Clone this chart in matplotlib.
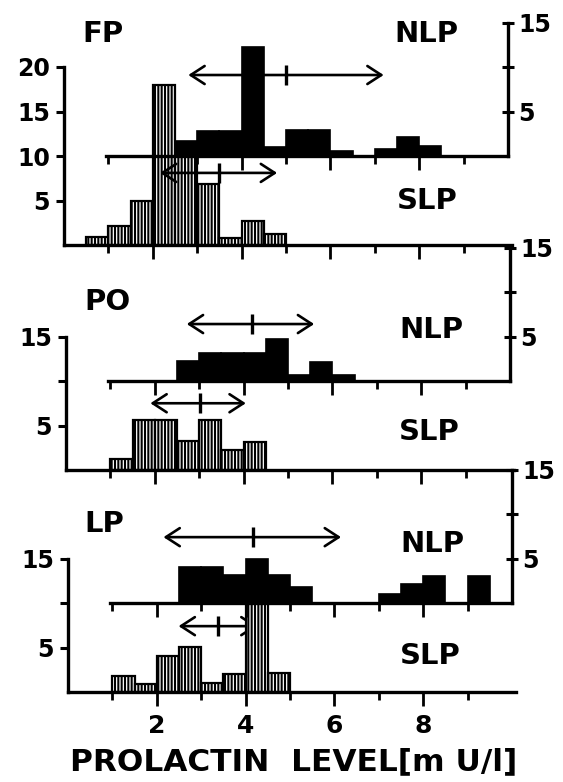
import matplotlib
matplotlib.use("Agg")
import matplotlib.pyplot as plt

plt.rcParams["font.family"] = ["DejaVu Sans"]
plt.rcParams["font.weight"] = "bold"
plt.rcParams["hatch.linewidth"] = 1.5

# ---------------- data (bin left edges, bin width 0.5) ----------------
FP_SLP_LEFT = [0.5, 1.0, 1.5, 2.0, 2.5, 3.0, 3.5, 4.0, 4.5]
FP_SLP_N = [0.9, 2.1, 4.9, 18.0, 10.0, 6.9, 0.8, 2.7, 1.2]
FP_NLP_LEFT = [2.5, 3.0, 3.5, 4.0, 4.5, 5.0, 5.5, 6.0, 7.0, 7.5, 8.0]
FP_NLP_N = [1.7, 2.8, 2.8, 12.2, 1.0, 2.9, 2.9, 0.6, 0.8, 2.1, 1.1]

PO_SLP_LEFT = [1.0, 1.5, 2.0, 2.5, 3.0, 3.5, 4.0]
PO_SLP_N = [1.2, 5.6, 5.6, 3.3, 5.6, 2.2, 3.1]
PO_NLP_LEFT = [2.5, 3.0, 3.5, 4.0, 4.5, 5.0, 5.5, 6.0]
PO_NLP_N = [2.3, 3.2, 3.2, 3.2, 4.7, 0.7, 2.1, 0.7]

LP_SLP_LEFT = [1.0, 1.5, 2.0, 2.5, 3.0, 3.5, 4.0, 4.5]
LP_SLP_N = [1.85, 0.9, 4.0, 5.1, 1.0, 2.0, 10.0, 2.1]
LP_NLP_LEFT = [2.5, 3.0, 3.5, 4.0, 4.5, 5.0, 7.0, 7.5, 8.0, 9.0]
LP_NLP_N = [4.0, 4.0, 3.1, 4.9, 3.1, 1.8, 1.0, 2.1, 3.0, 3.0]

# mean +/- SD arrows: [left, mean, right, level]
FP_SLP_ARROW = [2.16, 3.48, 4.80, 8.1]
FP_NLP_ARROW = [2.80, 5.00, 7.20, 9.1]
PO_SLP_ARROW = [1.90, 3.02, 4.05, 7.5]
PO_NLP_ARROW = [2.72, 4.18, 5.59, 6.4]
LP_SLP_ARROW = [2.49, 3.38, 4.27, 7.4]
LP_NLP_ARROW = [2.15, 4.17, 6.15, 7.4]

PANEL_NAMES = ["FP", "PO", "LP"]
SLP_YTICKS = [[5, 10, 15, 20], [5, 10, 15], [5, 10, 15]]
SLP_YLABELS = [["5", "10", "15", "20"], ["5", "", "15"], ["5", "", "15"]]
NLP_YTICKS = [5, 10, 15]
NLP_YLABELS = ["5", "", "15"]
X_MAJOR = [2, 4, 6, 8]
X_MINOR = [1, 3, 5, 7, 9]
X_LABELS = ["2", "4", "6", "8"]
XLABEL = "PROLACTIN  LEVEL[m U/l]"

# ---------------- layout ----------------
W, H = 563, 782
PX_X, PX_Y = 44.4, 8.9
YMAX = 26.0
NLP_OFFSET = 10.0
BASELINE_PX = [245, 470, 692]
LEFT_PX = [64, 66, 68]
NAME_POS = [(0.42, 23.7), (0.42, 18.9), (0.38, 18.9)]
NLP_POS = [(7.45, 23.7), (7.5, 15.7), (7.48, 16.6)]
SLP_POS = [(7.5, 4.9), (7.5, 4.3), (7.48, 4.0)]
SLP_ARROW_Z = [4, 4, 0.5]

fig = plt.figure(figsize=(W / 100, H / 100), dpi=100)

data = [
    (FP_SLP_LEFT, FP_SLP_N, FP_NLP_LEFT, FP_NLP_N, FP_SLP_ARROW, FP_NLP_ARROW),
    (PO_SLP_LEFT, PO_SLP_N, PO_NLP_LEFT, PO_NLP_N, PO_SLP_ARROW, PO_NLP_ARROW),
    (LP_SLP_LEFT, LP_SLP_N, LP_NLP_LEFT, LP_NLP_N, LP_SLP_ARROW, LP_NLP_ARROW),
]

LW = 2.4
TICK_FS = 17
LABEL_FS = 21
XLABEL_FS = 22.5


def draw_arrow(ax, arr, z):
    left, mean, right, level = arr
    ax.annotate("", xy=(right, level), xytext=(left, level),
                arrowprops=dict(arrowstyle="<->,head_length=1.0,head_width=0.65",
                                lw=1.9, color="black", mutation_scale=10,
                                shrinkA=0, shrinkB=0),
                zorder=z)
    ax.plot([mean, mean], [level - 1.1, level + 1.1], color="black", lw=2.4,
            zorder=z, solid_capstyle="butt")


for i, name in enumerate(PANEL_NAMES):
    slp_l, slp_n, nlp_l, nlp_n, slp_arr, nlp_arr = data[i]
    rect = [LEFT_PX[i] / W, (H - BASELINE_PX[i]) / H,
            10 * PX_X / W, YMAX * PX_Y / H]

    ax = fig.add_axes(rect)
    ax.patch.set_visible(False)
    ax.set_xlim(0, 10)
    ax.set_ylim(0, YMAX)
    ax.bar(slp_l, slp_n, width=0.5, align="edge", color="white",
           edgecolor="black", hatch="|||||", linewidth=1.6, zorder=2)
    draw_arrow(ax, slp_arr, SLP_ARROW_Z[i])

    for s in ["top", "right"]:
        ax.spines[s].set_visible(False)
    ax.spines["left"].set_bounds(0, SLP_YTICKS[i][-1])
    ax.spines["bottom"].set_bounds(0, 10.1)
    for s in ["left", "bottom"]:
        ax.spines[s].set_linewidth(LW)
        ax.spines[s].set_zorder(3)
    ax.set_yticks(SLP_YTICKS[i], SLP_YLABELS[i])
    ax.set_xticks(X_MAJOR, X_LABELS if i == 2 else [""] * len(X_MAJOR))
    ax.set_xticks(X_MINOR, minor=True)
    ax.tick_params(axis="x", which="major", direction="out", length=10,
                   width=2, labelsize=TICK_FS + 1, pad=6)
    ax.tick_params(axis="x", which="minor", direction="out", length=6, width=2)
    ax.tick_params(axis="y", direction="out", length=6, width=2.2,
                   labelsize=TICK_FS, pad=4)
    if i != 2:
        ax.tick_params(axis="x", labelbottom=False)

    ax.text(*NAME_POS[i], name, fontsize=LABEL_FS, ha="left", va="center")
    ax.text(*NLP_POS[i], "NLP", fontsize=LABEL_FS, ha="left", va="center")
    ax.text(*SLP_POS[i], "SLP", fontsize=LABEL_FS, ha="left", va="center")

    axn = fig.add_axes(rect)
    axn.patch.set_visible(False)
    axn.set_xlim(0, 10)
    axn.set_ylim(-NLP_OFFSET, YMAX - NLP_OFFSET)
    axn.bar(nlp_l, nlp_n, width=0.5, align="edge", color="black",
            edgecolor="black", linewidth=1.2, zorder=2)
    draw_arrow(axn, nlp_arr, 4)
    for s in ["top", "left"]:
        axn.spines[s].set_visible(False)
    axn.spines["bottom"].set_position(("data", 0))
    axn.spines["bottom"].set_bounds(0.95, 10)
    axn.spines["right"].set_bounds(0, 15)
    for s in ["right", "bottom"]:
        axn.spines[s].set_linewidth(LW)
        axn.spines[s].set_zorder(3)
    axn.yaxis.tick_right()
    axn.set_yticks(NLP_YTICKS, NLP_YLABELS)
    axn.set_xticks(X_MAJOR, [""] * len(X_MAJOR))
    axn.set_xticks(X_MINOR, minor=True)
    axn.tick_params(axis="x", which="major", direction="out", length=10,
                    width=2, labelbottom=False)
    axn.tick_params(axis="x", which="minor", direction="out", length=6, width=2)
    axn.tick_params(axis="y", direction="inout", length=9, width=2.2,
                    labelsize=TICK_FS, pad=3)

fig.text(0.521, 0.026, XLABEL, fontsize=XLABEL_FS, ha="center", va="center")

fig.savefig("out.png", dpi=100, facecolor="white")
